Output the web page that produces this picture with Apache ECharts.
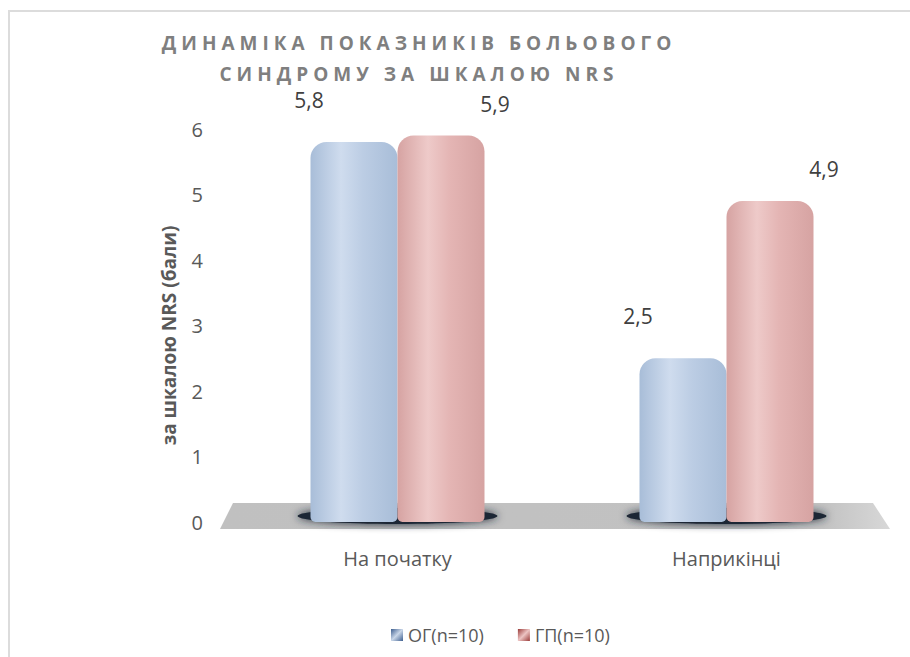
<!DOCTYPE html>
<html>
<head>
<meta charset="utf-8">
<script src="https://cdn.jsdelivr.net/npm/echarts@6/dist/echarts.min.js"></script>
<style>
html,body{margin:0;padding:0;background:#fff}
#chart{width:910px;height:657px}
</style>
</head>
<body>
<div id="chart"></div>
<script>
// data
const categories = ['На початку', 'Наприкінці'];
const ogValues = [5.8, 2.5];
const gpValues = [5.9, 4.9];
const yTicks = [0, 1, 2, 3, 4, 5, 6];
const seriesNames = ['ОГ(n=10)', 'ГП(n=10)'];
const titleLines = ['ДИНАМІКА ПОКАЗНИКІВ БОЛЬОВОГО', 'СИНДРОМУ ЗА ШКАЛОЮ NRS'];
const yName = 'за шкалою NRS (бали)';

const font = '"Open Sans", "Noto Sans", sans-serif';
const grey = '#595959';
const gridLeft = 233, gridRight = 19;

function cyl(edge, mid, hi) {
  return new echarts.graphic.LinearGradient(0, 0, 1, 0, [
    {offset: 0, color: edge},
    {offset: 0.35, color: hi},
    {offset: 0.6, color: mid},
    {offset: 1, color: edge}
  ]);
}
const blueFill = cyl('#a8bdd8', '#bccde4', '#cfdcee');
const pinkFill = cyl('#d6a3a2', '#e4b5b4', '#eecac9');

const fmt = p => String(p.value).replace('.', ',');

const chart = echarts.init(document.getElementById('chart'), null, {renderer: 'svg'});

chart.setOption({
  animation: false,
  grid: {left: gridLeft, right: gridRight, top: 129, bottom: 135},
  legend: {
    bottom: 8,
    left: 386,
    itemGap: 34,
    itemWidth: 12,
    itemHeight: 12,
    icon: 'rect',
    textStyle: {fontFamily: font, fontSize: 18, color: grey},
    data: [
      {name: seriesNames[0], itemStyle: {color: new echarts.graphic.LinearGradient(0, 0, 1, 1, [{offset: 0, color: '#3e5f8f'}, {offset: 0.5, color: '#c9d6e8'}, {offset: 1, color: '#3e5f8f'}])}},
      {name: seriesNames[1], itemStyle: {color: new echarts.graphic.LinearGradient(0, 0, 1, 1, [{offset: 0, color: '#9a3b39'}, {offset: 0.5, color: '#ecc4c3'}, {offset: 1, color: '#9a3b39'}])}}
    ]
  },
  xAxis: {
    type: 'category',
    data: categories,
    axisLine: {show: false},
    axisTick: {show: false},
    axisLabel: {margin: 26, fontFamily: font, fontSize: 20, color: grey}
  },
  yAxis: {
    type: 'value',
    min: yTicks[0],
    max: yTicks[yTicks.length - 1],
    interval: 1,
    name: yName,
    nameLocation: 'middle',
    nameGap: 55,
    nameTextStyle: {fontFamily: font, fontSize: 19, fontWeight: 'bold', color: grey, padding: [0, 20, 0, 0]},
    axisLine: {show: false},
    axisTick: {show: false},
    splitLine: {show: false},
    axisLabel: {margin: 30, fontFamily: font, fontSize: 20, color: grey, padding: [12, 0, 0, 0]}
  },
  series: [
    {
      name: seriesNames[0],
      type: 'bar',
      data: ogValues,
      barWidth: 87,
      barGap: '0%',
      z: 3,
      itemStyle: {color: blueFill, borderRadius: [16, 16, 5, 5]},
      label: {show: true, position: 'top', offset: [-45, -26], formatter: fmt,
        fontFamily: font, fontSize: 21, lineHeight: 22, color: '#404040'}
    },
    {
      name: seriesNames[1],
      type: 'bar',
      data: gpValues,
      barWidth: 87,
      z: 3,
      itemStyle: {color: pinkFill, borderRadius: [16, 16, 5, 5]},
      label: {show: true, position: 'top', offset: [54, -16], formatter: fmt,
        fontFamily: font, fontSize: 21, lineHeight: 22, color: '#404040'}
    }
  ]
});

// floor, base shadows, frame and title, placed from the axes
const y0 = chart.convertToPixel({yAxisIndex: 0}, 0);
const gr = 910 - gridRight;
const shapes = [
  {type: 'rect', z: 0, shape: {x: 9, y: 11, width: 1000, height: 1000},
    style: {fill: 'none', stroke: '#dcdcdc', lineWidth: 2}},
  {type: 'polygon', z: 1, shape: {points: [[gridLeft, y0 - 19], [gr - 18, y0 - 19], [gr - 1, y0 + 7], [gridLeft - 13, y0 + 7]]},
    style: {fill: new echarts.graphic.LinearGradient(0, 0, 1, 0, [{offset: 0, color: '#c0c0c0'}, {offset: 0.9, color: '#c2c2c2'}, {offset: 1, color: '#d8d8d8'}])}}
];
categories.forEach((c, i) => {
  const cx = chart.convertToPixel({xAxisIndex: 0}, i);
  shapes.push({type: 'ellipse', z: 2, shape: {cx: cx, cy: y0 - 6, rx: 100, ry: 8},
    style: {fill: '#1d2736', shadowBlur: 8, shadowColor: '#1d2736'}});
});
titleLines.forEach((t, i) => {
  shapes.push({type: 'text', z: 5, x: 419, y: 43 + i * 31,
    style: {text: t, align: 'center', verticalAlign: 'middle', fill: '#7f7f7f',
      font: 'bold 19px ' + font}});
});
chart.setOption({graphic: shapes});

function spaceTitle() {
  document.querySelectorAll('#chart text').forEach(el => {
    if (titleLines.indexOf(el.textContent) >= 0) el.style.letterSpacing = '5px';
  });
}
spaceTitle();
chart.on('finished', spaceTitle);
</script>
</body>
</html>
